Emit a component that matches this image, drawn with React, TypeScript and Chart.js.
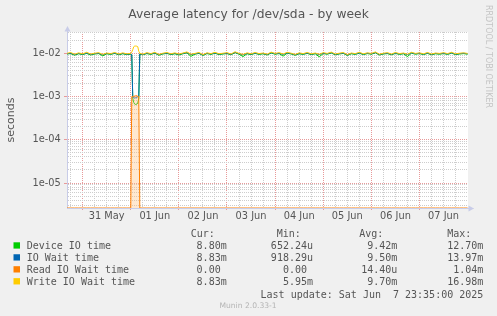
import React, { useEffect, useRef } from 'react';
import { Chart, registerables } from 'chart.js';

Chart.register(...registerables);

// time axis: hours since 30 May 00:00
const HOURS = [
  16, 18, 20, 22, 24, 26, 28, 30, 32, 34, 36, 38, 40, 42, 44, 46, 48,
  48.5, 49, 49.5, 50, 50.5, 51, 51.5, 52, 52.5,
  54, 56, 58, 60, 62, 64, 66, 68, 70, 72,
  74, 76, 78, 80, 82, 84, 86, 88, 90, 92,
  94, 96, 98, 100, 102, 104, 106, 108, 110, 112,
  114, 116, 118, 120, 122, 124, 126, 128, 130, 132,
  134, 136, 138, 140, 142, 144, 146, 148, 150, 152,
  154, 156, 158, 160, 162, 164, 166, 168, 170, 172,
  174, 176, 178, 180, 182, 184, 186, 188, 190, 192,
  194, 196, 198, 200, 202, 204, 206, 208, 210, 212,
  214, 216,
];

// values in milliseconds
const DEVICE_MS = [
  9.5, 9.7, 8.9, 9.6, 9.2, 9.8, 9.0, 9.5, 9.7, 8.6, 9.6, 9.3, 9.8, 9.1, 9.6, 9.2, 9.4,
  9.0, 0.9, 0.72, 0.66, 0.65, 0.66, 0.70, 0.9, 9.4,
  9.1, 9.7, 9.3, 9.9, 8.9, 9.5, 9.8, 9.2, 9.6, 9.0,
  9.6, 10.1, 8.4, 9.4, 9.8, 8.8, 9.7, 9.3, 9.9, 9.2,
  9.5, 9.7, 9.1, 10.2, 9.4, 8.3, 9.6, 9.2, 9.8, 9.3,
  9.6, 9.0, 10.0, 9.4, 9.7, 8.5, 9.9, 9.5, 8.9, 9.6,
  9.3, 9.8, 9.2, 9.6, 8.2, 9.7, 9.4, 10.0, 9.1, 9.5,
  9.8, 8.8, 9.6, 9.3, 9.9, 9.2, 9.7, 9.4, 10.1, 9.0,
  9.5, 9.7, 9.1, 9.8, 9.3, 9.6, 8.3, 9.9, 9.4, 9.7,
  9.2, 9.8, 9.1, 9.6, 9.4, 9.7, 9.3, 9.9, 9.2, 9.5,
  9.7, 9.4,
];

const IOWAIT_MS = [
  9.6, 9.9, 9.2, 9.8, 9.4, 10.0, 9.3, 9.7, 9.9, 9.1, 9.8, 9.5, 10.0, 9.3, 9.8, 9.4, 9.6,
  9.3, 0.95, 0.93, 0.92, 0.93, 0.94, 0.98, 0.98, 9.6,
  9.2, 9.9, 9.5, 10.1, 9.1, 9.7, 10.0, 9.4, 9.8, 9.3,
  9.8, 10.3, 9.2, 9.6, 10.0, 9.0, 9.9, 9.5, 10.1, 9.4,
  9.7, 9.9, 9.3, 10.4, 9.6, 9.1, 9.8, 9.4, 10.0, 9.5,
  9.8, 9.2, 10.2, 9.6, 9.9, 9.3, 10.1, 9.7, 9.1, 9.8,
  9.5, 10.0, 9.4, 9.8, 9.2, 9.9, 9.6, 10.2, 9.3, 9.7,
  10.0, 9.0, 9.8, 9.5, 10.1, 9.4, 9.9, 9.6, 10.3, 9.2,
  9.7, 9.9, 9.3, 10.0, 9.5, 9.8, 9.2, 10.1, 9.6, 9.9,
  9.4, 10.0, 9.3, 9.8, 9.6, 9.9, 9.5, 10.1, 9.4, 9.7,
  9.9, 9.6,
];

const READ_MS = [
  0, 0, 0, 0, 0, 0, 0, 0, 0, 0, 0, 0, 0, 0, 0, 0, 0,
  0.99, 1.0, 1.0, 1.02, 1.03, 1.04, 1.0, 1.0, 0,
  0, 0, 0, 0, 0, 0, 0, 0, 0, 0,
  0, 0, 0, 0, 0, 0, 0, 0, 0, 0,
  0, 0, 0, 0, 0, 0, 0, 0, 0, 0,
  0, 0, 0, 0, 0, 0, 0, 0, 0, 0,
  0, 0, 0, 0, 0, 0, 0, 0, 0, 0,
  0, 0, 0, 0, 0, 0, 0, 0, 0, 0,
  0, 0, 0, 0, 0, 0, 0, 0, 0, 0,
  0, 0, 0, 0, 0, 0, 0, 0, 0, 0,
  0, 0,
];

const WRITE_MS = [
  9.8, 10.3, 9.4, 10.1, 9.6, 10.4, 9.5, 9.9, 10.2, 9.3, 10.0, 9.7, 10.3, 9.5, 10.1, 9.6, 9.8,
  10.5, 12.0, 14.0, 14.5, 14.5, 14.4, 14.0, 11.0, 9.9,
  9.4, 10.2, 9.7, 10.4, 9.3, 9.9, 10.3, 9.6, 10.1, 9.5,
  10.0, 10.6, 9.4, 9.8, 10.3, 9.2, 10.1, 9.7, 10.4, 9.6,
  9.9, 10.2, 9.5, 10.7, 9.8, 9.3, 10.1, 9.6, 10.3, 9.7,
  10.0, 9.4, 10.5, 9.8, 10.2, 9.5, 10.4, 9.9, 9.3, 10.1,
  9.7, 10.3, 9.6, 10.0, 9.4, 10.2, 9.8, 10.5, 9.5, 9.9,
  10.3, 9.2, 10.0, 9.7, 10.4, 9.6, 10.1, 9.8, 10.6, 9.4,
  9.9, 10.2, 9.5, 10.3, 9.7, 10.0, 9.4, 10.4, 9.8, 10.1,
  9.6, 10.3, 9.5, 10.0, 9.8, 10.2, 9.7, 10.4, 9.6, 9.9,
  10.1, 9.8,
];

const DAY_LABELS = ['30 May', '31 May', '01 Jun', '02 Jun', '03 Jun', '04 Jun', '05 Jun', '06 Jun', '07 Jun'];

const LEGEND_LABELS = ['Device IO time', 'IO Wait time', 'Read IO Wait time', 'Write IO Wait time'];
const LEGEND_COLORS = ['#00cc00', '#0066b3', '#ff8000', '#ffcc00'];
const CUR = ['8.80m', '8.83m', '0.00 ', '8.83m'];
const MIN = ['652.24u', '918.29u', '0.00 ', '5.95m'];
const AVG = ['9.42m', '9.50m', '14.40u', '9.70m'];
const MAX = ['12.70m', '13.97m', '1.04m', '16.98m'];

const TITLE = 'Average latency for /dev/sda - by week';
const Y_TITLE = 'seconds';
const LAST_UPDATE = 'Last update: Sat Jun  7 23:35:00 2025';
const FOOTER = 'Munin 2.0.33-1';
const WATERMARK = 'RRDTOOL / TOBI OETIKER';

const X_MIN = 16.2;
const X_MAX = 216.2;
const Y_MIN = 2.65e-6;
const Y_MAX = 0.0306;

const RED = '#e89a9a';
const GRAY = '#cdcdcd';
const AXIS = '#c8cce8';
const TEXT = '#555555';

const isDecade = (v: number) => {
  const e = Math.log10(v);
  return Math.abs(e - Math.round(e)) < 1e-6;
};

const decor = {
  id: 'decor',
  beforeDraw(chart: any) {
    const { ctx, chartArea: a } = chart;
    ctx.save();
    ctx.fillStyle = '#f0f0f0';
    ctx.fillRect(0, 0, chart.width, chart.height);
    ctx.fillStyle = '#ffffff';
    ctx.fillRect(a.left, a.top, a.right - a.left, a.bottom - a.top);
    ctx.restore();
  },
  afterDraw(chart: any) {
    const { ctx, chartArea: a } = chart;
    ctx.save();
    // axis arrows
    ctx.fillStyle = AXIS;
    ctx.strokeStyle = AXIS;
    ctx.lineWidth = 1;
    ctx.beginPath();
    ctx.moveTo(a.left + 0.5, a.top);
    ctx.lineTo(a.left + 0.5, a.top - 4);
    ctx.stroke();
    ctx.beginPath();
    ctx.moveTo(a.left + 0.5, a.top - 6);
    ctx.lineTo(a.left - 2.5, a.top - 0.5);
    ctx.lineTo(a.left + 3.5, a.top - 0.5);
    ctx.closePath();
    ctx.fill();
    ctx.beginPath();
    ctx.moveTo(a.right, a.bottom + 0.5);
    ctx.lineTo(a.right + 5.5, a.bottom + 0.5);
    ctx.stroke();
    ctx.beginPath();
    ctx.moveTo(a.right + 6, a.bottom + 0.5);
    ctx.lineTo(a.right + 0.5, a.bottom - 2.5);
    ctx.lineTo(a.right + 0.5, a.bottom + 3.5);
    ctx.closePath();
    ctx.fill();

    // title
    ctx.fillStyle = TEXT;
    ctx.textBaseline = 'alphabetic';
    ctx.textAlign = 'center';
    ctx.font = '12.3px "DejaVu Sans"';
    ctx.fillText(TITLE, 248.5, 17.7);

    // legend
    ctx.font = '10px "DejaVu Sans Mono"';
    ctx.textAlign = 'left';
    ctx.fillText('Cur:', 190.7, 237);
    ctx.fillText('Min:', 276.7, 237);
    ctx.fillText('Avg:', 359.3, 237);
    ctx.fillText('Max:', 447.3, 237);
    for (let i = 0; i < LEGEND_LABELS.length; i++) {
      const b = 249.3 + 11.95 * i;
      ctx.fillStyle = LEGEND_COLORS[i];
      ctx.fillRect(13.5, b - 7, 6.5, 6.3);
      ctx.fillStyle = TEXT;
      ctx.textAlign = 'left';
      ctx.fillText(LEGEND_LABELS[i], 26.7, b);
      ctx.textAlign = 'right';
      ctx.fillText(CUR[i], 226.7, b);
      ctx.fillText(MIN[i], 313, b);
      ctx.fillText(AVG[i], 397.3, b);
      ctx.fillText(MAX[i], 483.3, b);
    }
    ctx.textAlign = 'right';
    ctx.fillText(LAST_UPDATE, 483.3, 297.6);

    // footer
    ctx.font = '7.6px "DejaVu Sans"';
    ctx.fillStyle = '#b4b4b4';
    ctx.textAlign = 'center';
    ctx.fillText(FOOTER, 248, 307.8);

    // watermark
    ctx.font = '8px "DejaVu Sans"';
    ctx.fillStyle = '#c4c4c4';
    ctx.textAlign = 'left';
    ctx.textBaseline = 'middle';
    ctx.translate(488.5, 5);
    ctx.rotate(Math.PI / 2);
    ctx.fillText(WATERMARK, 0, 0);
    ctx.restore();
  },
};

const toPoints = (vals: number[]) =>
  HOURS.map((h, i) => ({ x: h, y: vals[i] === 0 ? Y_MIN : vals[i] / 1000 }));

export default function App() {
  const ref = useRef<HTMLCanvasElement>(null);

  useEffect(() => {
    document.body.style.margin = '0';
    const canvas = ref.current;
    if (!canvas) return;
    const chart = new Chart(canvas, {
      type: 'line',
      data: {
        datasets: [
          {
            label: LEGEND_LABELS[0],
            data: toPoints(DEVICE_MS),
            borderColor: LEGEND_COLORS[0],
            borderWidth: 1,
            pointRadius: 0,
            tension: 0,
            fill: false,
            order: 3,
          },
          {
            label: LEGEND_LABELS[1],
            data: toPoints(IOWAIT_MS),
            borderColor: LEGEND_COLORS[1],
            borderWidth: 1,
            pointRadius: 0,
            tension: 0,
            fill: false,
            order: 2,
          },
          {
            label: LEGEND_LABELS[2],
            data: toPoints(READ_MS),
            borderColor: LEGEND_COLORS[2],
            backgroundColor: 'rgba(255, 190, 120, 0.35)',
            borderWidth: 1,
            pointRadius: 0,
            tension: 0,
            fill: 'start',
            order: 1,
          },
          {
            label: LEGEND_LABELS[3],
            data: toPoints(WRITE_MS),
            borderColor: LEGEND_COLORS[3],
            borderWidth: 1,
            pointRadius: 0,
            tension: 0,
            fill: false,
            order: 0,
          },
        ],
      },
      options: {
        responsive: false,
        devicePixelRatio: 1,
        animation: false,
        events: [],
        layout: { padding: { top: 32, right: 29, left: 0, bottom: 0 } },
        plugins: {
          legend: { display: false },
          tooltip: { enabled: false },
          title: { display: false },
        },
        scales: {
          x: {
            type: 'linear',
            min: X_MIN,
            max: X_MAX,
            afterBuildTicks: (scale: any) => {
              const t: any[] = [];
              for (let h = 18; h < X_MAX - 1; h += 6) t.push({ value: h });
              scale.ticks = t;
            },
            afterFit: (scale: any) => {
              scale.height = 108;
            },
            ticks: {
              autoSkip: false,
              maxRotation: 0,
              minRotation: 0,
              padding: 1,
              color: TEXT,
              font: { family: 'DejaVu Sans', size: 9.8 },
              callback: (v: any) => {
                const h = Number(v);
                return h % 24 === 12 ? DAY_LABELS[Math.floor(h / 24)] : '';
              },
            },
            grid: {
              color: (c: any) => (c.tick && c.tick.value % 24 === 0 ? RED : GRAY),
              lineWidth: 1,
              tickLength: 2,
              tickColor: (c: any) => (c.tick && c.tick.value % 24 === 0 ? RED : 'rgba(0,0,0,0)'),
            },
            border: { color: AXIS, width: 1, dash: [1, 1] },
          },
          y: {
            type: 'logarithmic',
            min: Y_MIN,
            max: Y_MAX,
            afterBuildTicks: (scale: any) => {
              const t: any[] = [];
              for (let e = -6; e <= -2; e++) {
                for (let m = 1; m <= 9; m++) {
                  const v = m * Math.pow(10, e);
                  if (v > Y_MIN && v < Y_MAX) t.push({ value: v });
                }
              }
              scale.ticks = t;
            },
            afterFit: (scale: any) => {
              scale.width = 67;
            },
            title: {
              display: true,
              text: Y_TITLE,
              color: TEXT,
              font: { family: 'DejaVu Sans', size: 11 },
              padding: { top: 4.5, bottom: 0 },
            },
            ticks: {
              autoSkip: false,
              padding: 3.3,
              color: TEXT,
              font: { family: 'DejaVu Sans', size: 9.8 },
              callback: (v: any) => {
                const n = Number(v);
                if (!isDecade(n)) return '';
                const e = Math.round(Math.log10(n));
                const sign = e < 0 ? '-' : '+';
                const a = Math.abs(e);
                return '1e' + sign + (a < 10 ? '0' + a : String(a));
              },
            },
            grid: {
              color: (c: any) => (c.tick && isDecade(c.tick.value) ? RED : GRAY),
              lineWidth: 1,
              tickLength: 3,
              tickColor: (c: any) => (c.tick && isDecade(c.tick.value) ? RED : 'rgba(0,0,0,0)'),
            },
            border: { color: AXIS, width: 1, dash: [1, 1] },
          },
        },
      } as any,
      plugins: [decor],
    });
    return () => chart.destroy();
  }, []);

  return (
    <canvas
      ref={ref}
      width={497}
      height={316}
      style={{ display: 'block', width: 497, height: 316 }}
    />
  );
}
